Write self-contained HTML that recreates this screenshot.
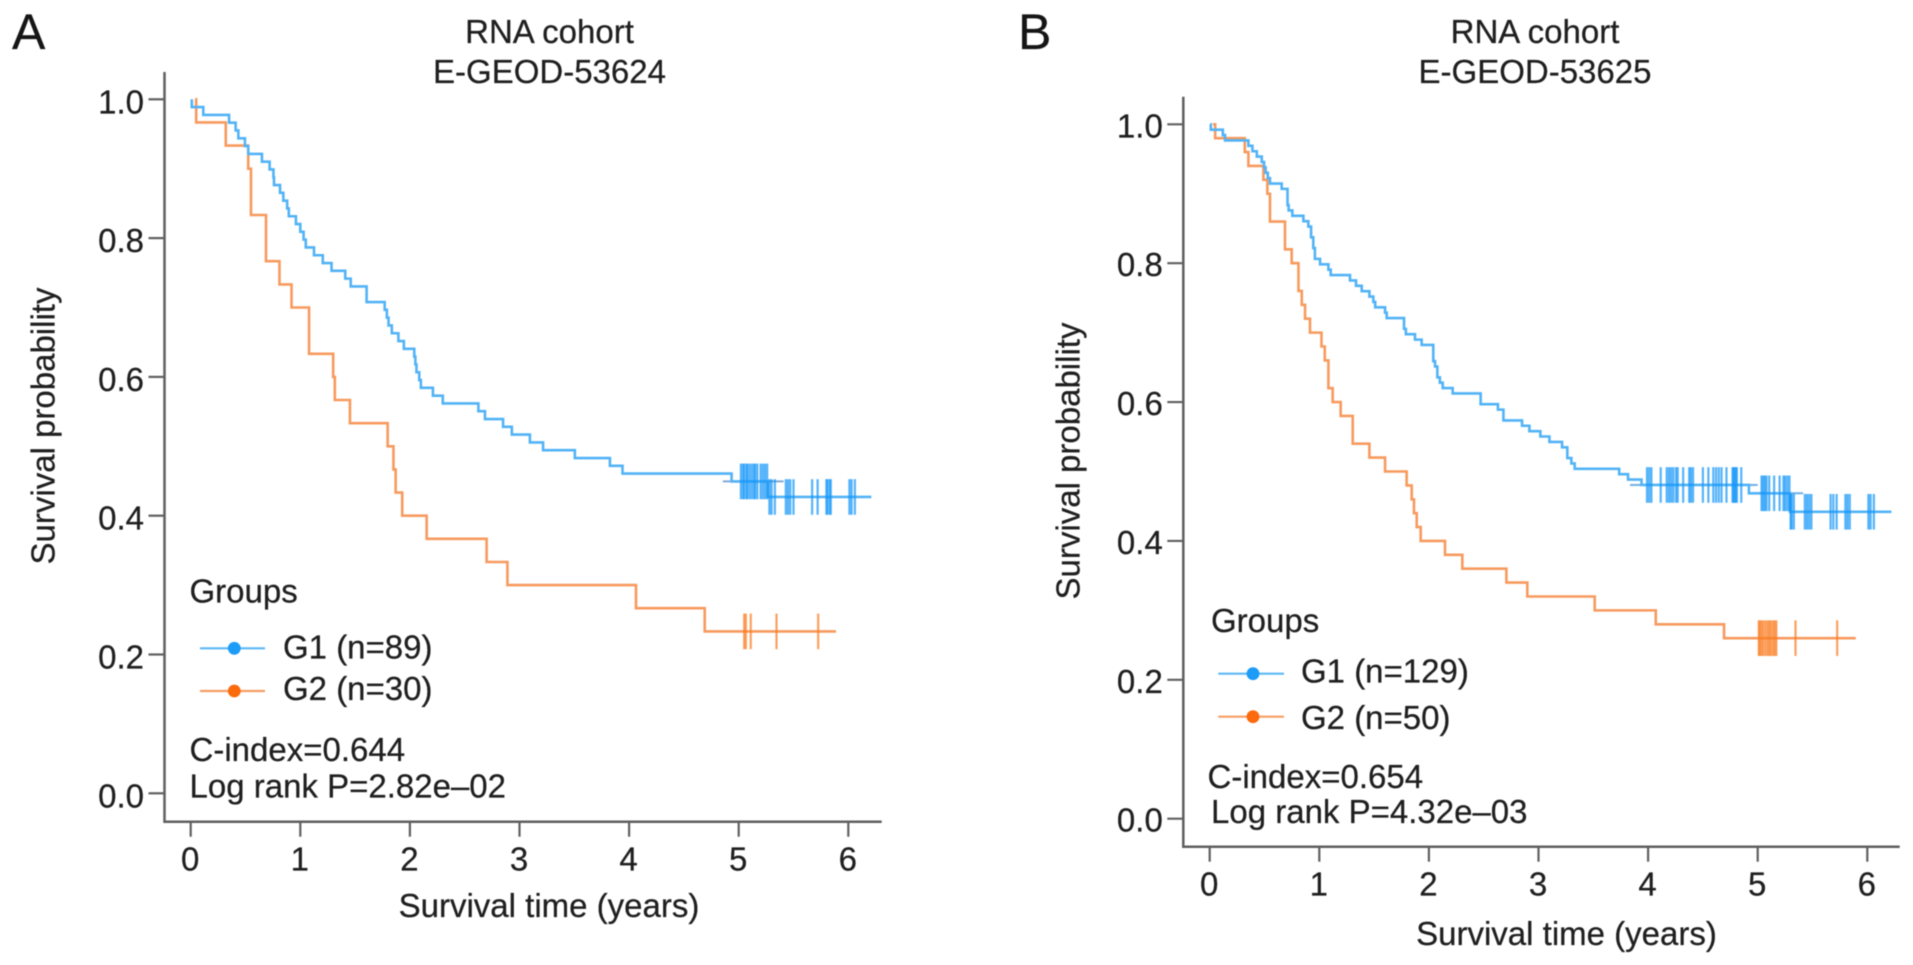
<!DOCTYPE html>
<html lang="en">
<head>
<meta charset="utf-8">
<title>RNA cohort survival curves</title>
<style>
  html, body { margin: 0; padding: 0; background: #fff; width: 1913px; height: 965px; overflow: hidden; }
  svg { display: block; filter: blur(0.45px); }
  text { font-family: "Liberation Sans", Arial, sans-serif; font-size: 33px; fill: #1f1f1f; stroke: #1f1f1f; stroke-width: 0.25px; }
  .panel-letter { font-size: 50px; fill: #151515; stroke: #151515; }
</style>
</head>
<body>
<svg id="figure" xmlns="http://www.w3.org/2000/svg" width="1913" height="965" viewBox="0 0 1913 965">
  <rect x="0" y="0" width="1913" height="965" fill="#ffffff"/>

  <g id="panel-a">
    <text class="panel-letter" x="12" y="49">A</text>
    <text x="549.5" y="43" text-anchor="middle">RNA cohort</text>
    <text x="549.5" y="83" text-anchor="middle">E-GEOD-53624</text>
    <text x="549" y="917" text-anchor="middle">Survival time (years)</text>
    <text transform="translate(54.5 426) rotate(-90)" text-anchor="middle">Survival probability</text>
    <text x="189.5" y="602.5">Groups</text>
    <line x1="200" x2="265" y1="648.3" y2="648.3" stroke="#5db8f6" stroke-width="2.2"/>
    <circle cx="234.3" cy="648.3" r="6.4" fill="#1c9bf7"/>
    <text x="283" y="658.5">G1 (n=89)</text>
    <line x1="200" x2="265" y1="691" y2="691" stroke="#f79d64" stroke-width="2.2"/>
    <circle cx="234.3" cy="691" r="6.4" fill="#fb6a0c"/>
    <text x="283" y="700">G2 (n=30)</text>
    <text x="189.5" y="761">C-index=0.644</text>
    <text x="189.5" y="797.5">Log rank P=2.82e–02</text>
  </g>

  <g id="panel-b">
    <text class="panel-letter" x="1018" y="49">B</text>
    <text x="1535" y="43" text-anchor="middle">RNA cohort</text>
    <text x="1535" y="83" text-anchor="middle">E-GEOD-53625</text>
    <text x="1566.5" y="945" text-anchor="middle">Survival time (years)</text>
    <text transform="translate(1079.5 461) rotate(-90)" text-anchor="middle">Survival probability</text>
    <text x="1211" y="632">Groups</text>
    <line x1="1218.3" x2="1284" y1="673.7" y2="673.7" stroke="#5db8f6" stroke-width="2.2"/>
    <circle cx="1253" cy="673.7" r="6.4" fill="#1c9bf7"/>
    <text x="1301" y="682.5">G1 (n=129)</text>
    <line x1="1218.3" x2="1284" y1="716.7" y2="716.7" stroke="#f79d64" stroke-width="2.2"/>
    <circle cx="1253" cy="716.7" r="6.4" fill="#fb6a0c"/>
    <text x="1301" y="729">G2 (n=50)</text>
    <text x="1207.5" y="788">C-index=0.654</text>
    <text x="1211" y="823">Log rank P=4.32e–03</text>
  </g>
</svg>

<script>
// Shared axis ticks
const yTickValues = [0, 0.2, 0.4, 0.6, 0.8, 1];
const yTickLabels = ["0.0", "0.2", "0.4", "0.6", "0.8", "1.0"];
const xTickValues = [0, 1, 2, 3, 4, 5, 6];
const xTickLabels = ["0", "1", "2", "3", "4", "5", "6"];

// Panel A, group G1: survival step function (years, probability)
const aG1Times = [0.01,0.01,0.115,0.35,0.41,0.435,0.495,0.525,0.65,0.72,0.755,0.76,0.815,0.845,0.88,0.895,0.96,1.0,1.03,1.05,1.125,1.205,1.285,1.41,1.46,1.605,1.77,1.79,1.805,1.835,1.895,1.945,2.04,2.05,2.06,2.085,2.10,2.21,2.30,2.625,2.685,2.85,2.93,3.095,3.215,3.505,3.825,3.94,4.935,5.265,6.21];
const aG1Surv = [1,0.9888,0.9775,0.9663,0.9551,0.9438,0.9326,0.9213,0.9101,0.8989,0.8876,0.8764,0.8652,0.8539,0.8427,0.8315,0.8202,0.8090,0.7978,0.7865,0.7753,0.7640,0.7528,0.7416,0.7303,0.7079,0.6966,0.6854,0.6742,0.6629,0.6517,0.6404,0.6292,0.6180,0.6067,0.5955,0.5843,0.5730,0.5618,0.5506,0.5393,0.5281,0.5169,0.5056,0.4944,0.4831,0.4719,0.4607,0.4494,0.427,0.427];
const aG1Censor = [5.02,5.04,5.05,5.07,5.08,5.10,5.12,5.14,5.15,5.17,5.20,5.22,5.24,5.26,5.28,5.30,5.33,5.43,5.45,5.47,5.50,5.67,5.72,5.80,5.81,5.83,5.84,6.01,6.03,6.06];
const aG1OverhangStart = [4.855];
const aG1OverhangEnd = [5.41];
const aG1OverhangSurv = [0.4494];

// Panel A, group G2
const aG2Times = [0.04,0.05,0.32,0.525,0.55,0.687,0.81,0.92,1.08,1.30,1.315,1.453,1.797,1.85,1.87,1.93,2.153,2.70,2.89,4.063,4.69,5.888];
const aG2Surv = [1,0.9667,0.9333,0.90,0.8333,0.7667,0.7333,0.70,0.6333,0.60,0.5667,0.5333,0.50,0.4667,0.4333,0.40,0.3667,0.3333,0.30,0.2667,0.2333,0.2333];
const aG2Censor = [5.05,5.065,5.11,5.345,5.725];

// Panel B, group G1
const bG1Times = [0.005,0.01,0.12,0.14,0.353,0.39,0.43,0.475,0.496,0.51,0.53,0.55,0.657,0.71,0.72,0.754,0.855,0.90,0.925,0.945,0.96,1.007,1.083,1.104,1.28,1.335,1.387,1.457,1.493,1.51,1.60,1.615,1.773,1.79,1.873,1.934,2.04,2.056,2.077,2.10,2.126,2.217,2.472,2.63,2.68,2.85,2.917,3.017,3.10,3.215,3.263,3.30,3.33,3.736,3.817,3.94,4.92,5.295,6.22];
const bG1Surv = [1,0.9922,0.9845,0.9767,0.9690,0.9612,0.9535,0.9457,0.9380,0.9302,0.9225,0.9147,0.9070,0.8837,0.8760,0.8682,0.8605,0.8527,0.8372,0.8217,0.8062,0.7984,0.7907,0.7829,0.7752,0.7674,0.7597,0.7519,0.7442,0.7364,0.7287,0.7209,0.7054,0.6977,0.6899,0.6822,0.6589,0.6512,0.6357,0.6279,0.6202,0.6124,0.5969,0.5891,0.5736,0.5659,0.5581,0.5504,0.5426,0.5349,0.5194,0.5116,0.5039,0.4961,0.4884,0.4806,0.4686,0.442,0.442];
const bG1Censor = [3.99,4.01,4.03,4.115,4.17,4.19,4.21,4.23,4.255,4.27,4.32,4.375,4.39,4.41,4.50,4.55,4.595,4.62,4.645,4.67,4.715,4.77,4.78,4.79,4.80,4.81,4.85,5.035,5.05,5.065,5.08,5.105,5.15,5.20,5.235,5.25,5.27,5.29,5.30,5.31,5.33,5.43,5.45,5.47,5.49,5.665,5.69,5.72,5.80,5.82,5.84,6.01,6.03,6.06];
const bG1OverhangStart = [3.835,4.885,5.0];
const bG1OverhangEnd = [3.94,5.0,5.415];
const bG1OverhangSurv = [0.4806,0.4806,0.4686];

// Panel B, group G2
const bG2Times = [0.03,0.05,0.32,0.353,0.49,0.526,0.55,0.687,0.748,0.81,0.84,0.87,0.915,1.02,1.05,1.083,1.122,1.195,1.305,1.457,1.60,1.797,1.843,1.864,1.889,1.925,2.147,2.305,2.707,2.898,3.513,4.07,4.693,5.895];
const bG2Surv = [1,0.98,0.96,0.94,0.92,0.90,0.86,0.82,0.80,0.76,0.74,0.72,0.70,0.68,0.66,0.62,0.60,0.58,0.54,0.52,0.50,0.48,0.46,0.44,0.42,0.40,0.38,0.36,0.34,0.32,0.30,0.28,0.26,0.26];
const bG2Censor = [5.01,5.02,5.035,5.05,5.07,5.09,5.105,5.12,5.14,5.155,5.17,5.345,5.725];

const SVG_NS = "http://www.w3.org/2000/svg";
const BLUE_LINE = "#52b3f6";
const BLUE_MARK = "#1496f8";
const ORANGE_LINE = "#f79a5e";
const ORANGE_MARK = "#f97c20";
const AXIS_COLOR = "#5f5f5f";

function makeScale(d0, d1, r0, r1) {
  return function (v) { return r0 + (v - d0) * (r1 - r0) / (d1 - d0); };
}

function survivalAt(times, surv, t) {
  let value = surv[0];
  for (let i = 0; i < times.length; i++) {
    if (times[i] <= t) value = surv[i];
  }
  return value;
}

function drawAxes(parent, prefix, frame, x, y) {
  const axis = document.createElementNS(SVG_NS, "path");
  axis.setAttribute("d", "M" + frame.left + " " + frame.top + "V" + frame.bottom + "H" + frame.right);
  axis.setAttribute("fill", "none");
  axis.setAttribute("stroke", AXIS_COLOR);
  axis.setAttribute("stroke-width", "2.5");
  
  
  parent.appendChild(axis);

  yTickValues.forEach(function (value, i) {
    const tick = document.createElementNS(SVG_NS, "line");
    tick.setAttribute("x1", frame.left - 16);
    tick.setAttribute("x2", frame.left);
    tick.setAttribute("y1", y(value));
    tick.setAttribute("y2", y(value));
    tick.setAttribute("stroke", AXIS_COLOR);
    tick.setAttribute("stroke-width", "2.2");
    
    
    parent.appendChild(tick);

    const label = document.createElementNS(SVG_NS, "text");
    label.setAttribute("x", frame.left - 20.5);
    label.setAttribute("y", y(value) + frame.yLabelDrop);
    label.setAttribute("text-anchor", "end");
    label.textContent = yTickLabels[i];
    
    
    parent.appendChild(label);
  });

  xTickValues.forEach(function (value, i) {
    const tick = document.createElementNS(SVG_NS, "line");
    tick.setAttribute("x1", x(value));
    tick.setAttribute("x2", x(value));
    tick.setAttribute("y1", frame.bottom);
    tick.setAttribute("y2", frame.bottom + 15);
    tick.setAttribute("stroke", AXIS_COLOR);
    tick.setAttribute("stroke-width", "2.2");
    
    
    parent.appendChild(tick);

    const label = document.createElementNS(SVG_NS, "text");
    label.setAttribute("x", x(value) - 0.5);
    label.setAttribute("y", frame.bottom + 49);
    label.setAttribute("text-anchor", "middle");
    label.textContent = xTickLabels[i];
    
    
    parent.appendChild(label);
  });
}

function drawCurve(parent, prefix, times, surv, color, x, y) {
  let d = "M" + x(times[0]).toFixed(2) + " " + y(surv[0]).toFixed(2);
  for (let i = 1; i < times.length; i++) {
    d += "H" + x(times[i]).toFixed(2) + "V" + y(surv[i]).toFixed(2);
  }
  const curve = document.createElementNS(SVG_NS, "path");
  curve.setAttribute("d", d);
  curve.setAttribute("fill", "none");
  curve.setAttribute("stroke", color);
  curve.setAttribute("stroke-width", "2.6");
  
  
  parent.appendChild(curve);
}

function drawCensorMarks(parent, prefix, censor, times, surv, color, x, y) {
  censor.forEach(function (t) {
    const level = y(survivalAt(times, surv, t));
    const mark = document.createElementNS(SVG_NS, "line");
    mark.setAttribute("x1", x(t));
    mark.setAttribute("x2", x(t));
    mark.setAttribute("y1", level - 17.8);
    mark.setAttribute("y2", level + 17.8);
    mark.setAttribute("stroke", color);
    mark.setAttribute("stroke-width", "2.2");
    mark.setAttribute("stroke-opacity", "0.72");
    
    
    parent.appendChild(mark);
  });
}

function drawOverhangs(parent, prefix, starts, ends, levels, color, x, y) {
  starts.forEach(function (start, i) {
    const seg = document.createElementNS(SVG_NS, "line");
    seg.setAttribute("x1", x(start));
    seg.setAttribute("x2", x(ends[i]));
    seg.setAttribute("y1", y(levels[i]));
    seg.setAttribute("y2", y(levels[i]));
    seg.setAttribute("stroke", color);
    seg.setAttribute("stroke-width", "2");
    
    
    parent.appendChild(seg);
  });
}

// Panel A
(function () {
  const parent = document.getElementById("panel-a");
  const frame = { left: 164.5, top: 72, bottom: 821.7, right: 881.7, yLabelDrop: 14 };
  const x = makeScale(0, 6, 190.7, 848.3);
  const y = makeScale(0, 1, 793.3, 99.3);
  drawAxes(parent, "panel-a", frame, x, y);
  drawCurve(parent, "panel-a-g2", aG2Times, aG2Surv, ORANGE_LINE, x, y);
  drawCensorMarks(parent, "panel-a-g2", aG2Censor, aG2Times, aG2Surv, ORANGE_MARK, x, y);
  drawOverhangs(parent, "panel-a-g1", aG1OverhangStart, aG1OverhangEnd, aG1OverhangSurv, "#7fa9d6", x, y);
  drawCurve(parent, "panel-a-g1", aG1Times, aG1Surv, BLUE_LINE, x, y);
  drawCensorMarks(parent, "panel-a-g1", aG1Censor, aG1Times, aG1Surv, BLUE_MARK, x, y);
})();

// Panel B
(function () {
  const parent = document.getElementById("panel-b");
  const frame = { left: 1183.3, top: 96.7, bottom: 846.7, right: 1899.7, yLabelDrop: 13 };
  const x = makeScale(0, 6, 1209.7, 1867.3);
  const y = makeScale(0, 1, 818.7, 124.3);
  drawAxes(parent, "panel-b", frame, x, y);
  drawCurve(parent, "panel-b-g2", bG2Times, bG2Surv, ORANGE_LINE, x, y);
  drawCensorMarks(parent, "panel-b-g2", bG2Censor, bG2Times, bG2Surv, ORANGE_MARK, x, y);
  drawOverhangs(parent, "panel-b-g1", bG1OverhangStart, bG1OverhangEnd, bG1OverhangSurv, "#6fb0e6", x, y);
  drawCurve(parent, "panel-b-g1", bG1Times, bG1Surv, BLUE_LINE, x, y);
  drawCensorMarks(parent, "panel-b-g1", bG1Censor, bG1Times, bG1Surv, BLUE_MARK, x, y);
})();
</script>
</body>
</html>
